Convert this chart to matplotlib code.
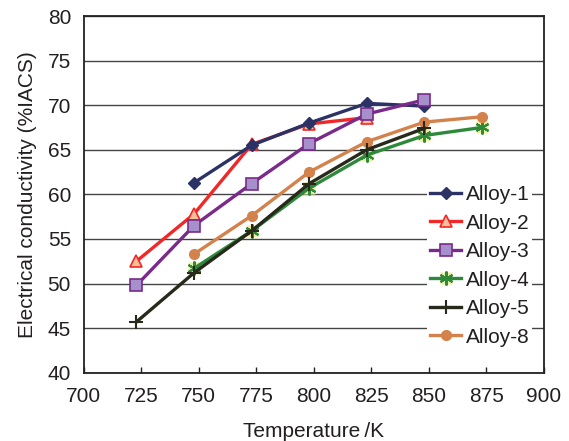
import matplotlib
matplotlib.use("Agg")
import matplotlib.pyplot as plt
from matplotlib.legend_handler import HandlerTuple

plt.rcParams['font.family'] = ['Liberation Sans', 'DejaVu Sans']

alloy1_T = [748, 773, 798, 823, 848]
alloy1 = [61.3, 65.5, 68.0, 70.2, 69.9]
alloy2_T = [723, 748, 773, 798, 823]
alloy2 = [52.5, 57.8, 65.6, 67.9, 68.6]
alloy3_T = [723, 748, 773, 798, 823, 848]
alloy3 = [49.8, 56.5, 61.2, 65.7, 69.0, 70.6]
alloy4_T = [748, 773, 798, 823, 848, 873]
alloy4 = [51.7, 55.9, 60.7, 64.4, 66.6, 67.5]
alloy5_T = [723, 748, 773, 798, 823, 848]
alloy5 = [45.7, 51.2, 55.9, 61.2, 65.0, 67.4]
alloy8_T = [748, 773, 798, 823, 848, 873]
alloy8 = [53.3, 57.6, 62.5, 65.9, 68.1, 68.7]
labels = ['Alloy-1', 'Alloy-2', 'Alloy-3', 'Alloy-4', 'Alloy-5', 'Alloy-8']

x_ticks = [700, 725, 750, 775, 800, 825, 850, 875, 900]
y_ticks = [40, 45, 50, 55, 60, 65, 70, 75, 80]

txt = '#231F20'
fs = 15
fig = plt.figure(figsize=(5.69, 4.41), dpi=100)
ax = fig.add_axes([0.1468, 0.1549, 0.8093, 0.8088])

lw = 2.4
h1, = ax.plot(alloy1_T, alloy1, color='#2B3266', lw=lw, marker='D', ms=6.5,
              mfc='#2B3266', mec='#2B3266', zorder=5)
h2, = ax.plot(alloy2_T, alloy2, color='#F02828', lw=lw, marker='^', ms=9,
              mfc='#F8BE98', mec='#F02828', mew=1.2, zorder=4)
h3, = ax.plot(alloy3_T, alloy3, color='#7A2A8A', lw=lw, marker='s', ms=9,
              mfc='#A690CC', mec='#7A2A8A', mew=1.2, zorder=6)
h4b, = ax.plot(alloy4_T, alloy4, ls='none', marker='s', ms=8.5,
               mfc='#EEF0A0', mec='none', zorder=3)
h4, = ax.plot(alloy4_T, alloy4, color='#2E8A3A', lw=lw, marker=(6, 2, 0), ms=10,
              mec='#2E8A3A', mew=1.5, zorder=3)
h5, = ax.plot(alloy5_T, alloy5, color='#27291A', lw=lw, marker='+', ms=10,
              mec='#27291A', mew=1.5, zorder=4)
h8, = ax.plot(alloy8_T, alloy8, color='#D4824C', lw=lw, marker='o', ms=7,
              mfc='#D4824C', mec='#D4824C', zorder=3)

ax.set_xlim(700, 900)
ax.set_ylim(40, 80)
ax.set_xticks(x_ticks)
ax.set_yticks(y_ticks)
ax.yaxis.grid(True, color='#444444', lw=1.0)
ax.set_axisbelow(True)
ax.tick_params(axis='x', direction='in', length=4, width=1, colors=txt,
               labelsize=fs, pad=10, labelcolor=txt)
ax.tick_params(axis='y', length=0, labelsize=fs, pad=9, labelcolor=txt)
for s in ax.spines.values():
    s.set_color('#222222')
    s.set_linewidth(1.3)

ax.set_xlabel('Temperature\u2009/K', fontsize=fs, color=txt, labelpad=12)
ax.set_ylabel('Electrical conductivity (%IACS)', fontsize=fs, color=txt, labelpad=8)

leg = ax.legend([h1, h2, h3, (h4b, h4), h5, h8], labels,
                handler_map={tuple: HandlerTuple(ndivide=1)},
                loc='upper left', bbox_to_anchor=(0.746, 0.535),
                fontsize=fs, frameon=True, framealpha=1, edgecolor='none',
                facecolor='white', fancybox=False, handlelength=1.5,
                handletextpad=0.2, labelspacing=0.457, borderpad=0.15,
                borderaxespad=0)
for t in leg.get_texts():
    t.set_color(txt)

fig.savefig('out.png', dpi=100)
